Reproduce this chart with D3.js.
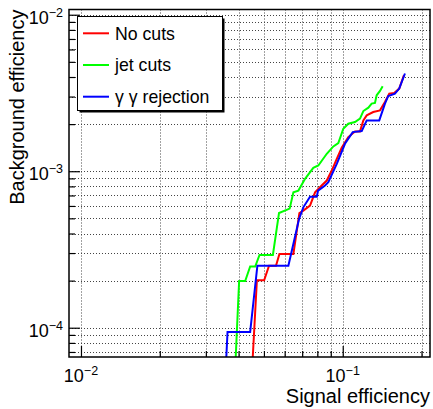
<!DOCTYPE html>
<html>
<head>
<meta charset="utf-8">
<script src="https://cdn.jsdelivr.net/npm/d3@7"></script>
<style>
  html, body { margin: 0; padding: 0; background: #fff; }
  svg { display: block; font-family: "Liberation Sans", Arial, Helvetica, sans-serif; }
</style>
</head>
<body>
<svg id="chart" width="433" height="409"></svg>
<script>
// ---- data ----
const xDomain = [0.009, 0.2155];
const yDomain = [6.5e-5, 0.0108];
const xMajorExponents = [-2, -1];
const yMajorExponents = [-4, -3, -2];

const seriesNames = ["No cuts", "jet cuts", "\u03B3 \u03B3 rejection"];
const seriesColors = ["#ff0000", "#00ff00", "#0000ff"];

const noCutsX = [0.0453,0.0470,0.0501,0.0523,0.0556,0.0573,0.0648,0.0683,0.0707,0.0750,
  0.0784,0.0831,0.0869,0.0908,0.0949,0.0991,0.1050,0.1114,0.1164,0.1199,
  0.1235,0.1308,0.1388,0.1450,0.1506,0.1573,0.1644,0.1714];
const noCutsY = [6.4e-5,2.01e-4,2.01e-4,2.49e-4,2.49e-4,2.96e-4,2.96e-4,5.4e-4,5.6e-4,6.03e-4,
  7.33e-4,8.10e-4,8.72e-4,1.01e-3,1.201e-3,1.413e-3,1.652e-3,1.797e-3,1.797e-3,2.113e-3,
  2.275e-3,2.389e-3,2.449e-3,2.769e-3,3.135e-3,3.162e-3,3.375e-3,4.108e-3];

const jetCutsX = [0.0390,0.0402,0.0424,0.0443,0.0463,0.0481,0.0541,0.0571,0.0627,0.0648,
  0.0677,0.0718,0.0772,0.0807,0.0869,0.0921,0.0962,0.1005,0.1050,0.1114,
  0.1164,0.1199,0.1253,0.1290,0.1328,0.1348,0.1388,0.1421];
const jetCutsY = [6.4e-5,1.99e-4,1.99e-4,2.46e-4,2.46e-4,2.92e-4,2.92e-4,5.41e-4,5.77e-4,7.33e-4,
  7.52e-4,8.94e-4,1.051e-3,1.088e-3,1.293e-3,1.44e-3,1.512e-3,1.87e-3,2.013e-3,2.061e-3,
  2.167e-3,2.424e-3,2.549e-3,2.704e-3,2.729e-3,3.057e-3,3.257e-3,3.491e-3];

const ggRejX = [0.0359,0.0363,0.0443,0.0472,0.0620,0.0681,0.0707,0.0750,0.0796,0.0805,
  0.0856,0.0881,0.0949,0.1020,0.1092,0.1182,0.1235,0.1379,0.1450,0.1493,
  0.1583,0.1644,0.1729];
const ggRejY = [6.4e-5,9.4e-5,9.4e-5,2.49e-4,2.49e-4,4.95e-4,5.88e-4,6.88e-4,6.88e-4,7.52e-4,
  8.10e-4,8.50e-4,1.115e-3,1.498e-3,1.778e-3,1.805e-3,2.113e-3,2.113e-3,2.704e-3,3.026e-3,
  3.135e-3,3.375e-3,4.211e-3];

// ---- layout ----
const L = 69, R = 430, T = 9.5, B = 357;
const svg = d3.select("#chart");
svg.append("rect").attr("width", 433).attr("height", 409).attr("fill", "#fff");

const x = d3.scaleLog().domain(xDomain).range([L, R]);
const y = d3.scaleLog().domain(yDomain).range([B, T]);

function allTicks(domain) {
  const out = [];
  const e0 = Math.floor(Math.log10(domain[0])), e1 = Math.ceil(Math.log10(domain[1]));
  for (let e = e0; e <= e1; e++) for (let k = 1; k <= 9; k++) {
    const v = k * Math.pow(10, e);
    if (v >= domain[0] * 1.0001 && v <= domain[1] * 0.9999) out.push({v, major: k === 1});
  }
  return out;
}
const xt = allTicks(xDomain), yt = allTicks(yDomain);

// grid
const grid = svg.append("g").attr("stroke", "#444").attr("stroke-width", 1)
  .attr("stroke-dasharray", "1,2");
xt.forEach(t => grid.append("line")
  .attr("x1", Math.round(x(t.v)) + 0.5).attr("x2", Math.round(x(t.v)) + 0.5)
  .attr("y1", T).attr("y2", B));
yt.forEach(t => grid.append("line")
  .attr("y1", Math.round(y(t.v)) + 0.5).attr("y2", Math.round(y(t.v)) + 0.5)
  .attr("x1", L).attr("x2", R));

// curves
const clip = svg.append("clipPath").attr("id", "clip").append("rect")
  .attr("x", L).attr("y", T).attr("width", R - L).attr("height", B - T);
const line = d3.line().x(d => x(d[0])).y(d => y(d[1]));
const seriesData = [
  d3.zip(noCutsX, noCutsY),
  d3.zip(jetCutsX, jetCutsY),
  d3.zip(ggRejX, ggRejY)
];
const cg = svg.append("g").attr("clip-path", "url(#clip)");
seriesData.forEach((d, i) => cg.append("path").datum(d).attr("d", line)
  .attr("fill", "none").attr("stroke", seriesColors[i]).attr("stroke-width", 2)
  .attr("stroke-linejoin", "miter"));

// axes ticks (inside)
const xAxisMajor = d3.axisBottom(x).tickValues(xt.filter(t => t.major).map(t => t.v))
  .tickSizeInner(-11).tickSizeOuter(0).tickFormat("");
const xAxisMinor = d3.axisBottom(x).tickValues(xt.filter(t => !t.major).map(t => t.v))
  .tickSizeInner(-6).tickSizeOuter(0).tickFormat("");
const yAxisMajor = d3.axisLeft(y).tickValues(yt.filter(t => t.major).map(t => t.v))
  .tickSizeInner(-11).tickSizeOuter(0).tickFormat("");
const yAxisMinor = d3.axisLeft(y).tickValues(yt.filter(t => !t.major).map(t => t.v))
  .tickSizeInner(-6).tickSizeOuter(0).tickFormat("");
[xAxisMajor, xAxisMinor].forEach(a => {
  const g = svg.append("g").attr("transform", `translate(0,${B})`).call(a);
  g.select(".domain").remove();
  g.selectAll("line").attr("stroke", "#000").attr("stroke-width", 1.2);
});
[yAxisMajor, yAxisMinor].forEach(a => {
  const g = svg.append("g").attr("transform", `translate(${L},0)`).call(a);
  g.select(".domain").remove();
  g.selectAll("line").attr("stroke", "#000").attr("stroke-width", 1.2);
});

// frame
svg.append("rect").attr("x", L).attr("y", T).attr("width", R - L).attr("height", B - T)
  .attr("fill", "none").attr("stroke", "#000").attr("stroke-width", 1.5);

// tick labels
function powLabel(sel, e) {
  sel.append("tspan").attr("font-size", 18).text("10");
  sel.append("tspan").attr("font-size", 12.5).attr("dy", -7).text("\u2212" + Math.abs(e));
}
xMajorExponents.forEach(e => {
  const t = svg.append("text").attr("x", x(Math.pow(10, e))).attr("y", 382)
    .attr("text-anchor", "middle").attr("fill", "#000");
  powLabel(t, e);
});
yMajorExponents.forEach(e => {
  const t = svg.append("text").attr("x", 63).attr("y", y(Math.pow(10, e)) + 9)
    .attr("text-anchor", "end").attr("fill", "#000");
  powLabel(t, e);
});

// axis titles
svg.append("text").attr("x", R).attr("y", 403).attr("text-anchor", "end")
  .attr("font-size", 20).text("Signal efficiency");
svg.append("text").attr("transform", `translate(23.5,${T})rotate(-90)`)
  .attr("text-anchor", "end").attr("font-size", 20).text("Background efficiency");

// legend
const lg = svg.append("g");
const lx = 77.5, ly = 16.5, lw = 145, lh = 94;
lg.append("rect").attr("x", lx + 2).attr("y", ly + 2).attr("width", lw).attr("height", lh)
  .attr("fill", "#000");
lg.append("rect").attr("x", lx).attr("y", ly).attr("width", lw).attr("height", lh)
  .attr("fill", "#fff").attr("stroke", "#000").attr("stroke-width", 1);
const rowY = [33.3, 65, 96.7];
seriesNames.forEach((n, i) => {
  lg.append("line").attr("x1", 83).attr("x2", 109).attr("y1", rowY[i]).attr("y2", rowY[i])
    .attr("stroke", seriesColors[i]).attr("stroke-width", 2);
  lg.append("text").attr("x", 115).attr("y", rowY[i] + 6.3).attr("font-size", 17.7).text(n);
});
</script>
</body>
</html>
